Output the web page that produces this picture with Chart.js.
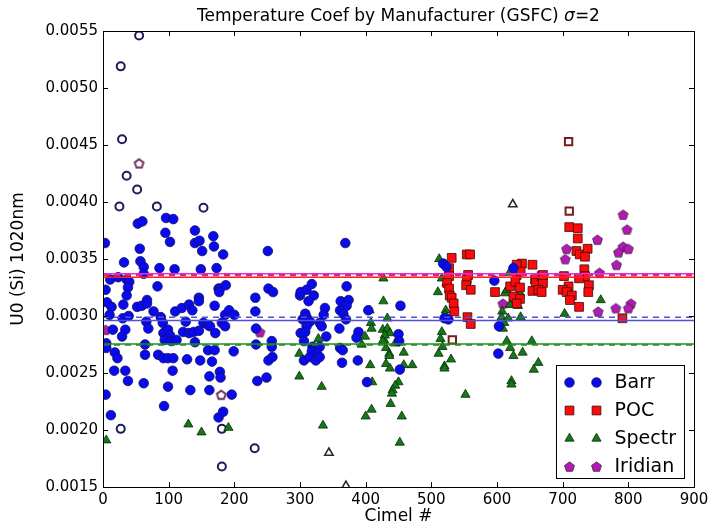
<!DOCTYPE html>
<html>
<head>
<meta charset="utf-8">
<script src="https://cdn.jsdelivr.net/npm/chart.js@4.4.0/dist/chart.umd.min.js"></script>
<style>
  html, body { margin: 0; padding: 0; background: #fff; }
</style>
</head>
<body>
<canvas id="chart" width="717" height="527"></canvas>
<script>
// Barr (filled circles)
const barrX = [3, 53, 60, 96, 107, 95, 102, 56, 140, 168, 140, 147, 151, 169, 32, 57, 62, 86, 109, 149, 173, 62, 11, 23, 36, 40, 38, 83, 4, 36, 176, 67, 146,
  6, 13, 31, 52, 59, 67, 77, 88, 110, 120, 131, 136, 146, 170, 10, 30, 39, 66, 69, 91, 92, 99, 94, 102, 104, 112, 122, 126, 131, 138, 140, 146, 153, 160, 163, 171,
  15, 34, 29, 5, 5, 18, 22, 64, 64, 84, 92, 99, 107, 128, 148, 160, 166, 17, 34, 106, 38, 62, 99, 133, 162, 162, 4, 93, 12, 196, 176, 183, 178, 179,
  183, 251, 178, 187, 177, 186, 192, 200, 181, 186, 170, 199, 232, 232, 252, 259, 233, 233, 257, 257, 252, 258, 235, 249,
  300, 301, 318, 321, 313, 310, 338, 336, 308, 304, 310, 315, 310, 301, 308, 330, 333, 340, 306, 319, 324, 330, 318, 325, 306, 315, 324, 330,
  369, 371, 362, 374, 371, 361, 366, 370, 360, 389, 386, 361, 365, 364, 388, 404, 453, 450, 451, 452, 402,
  518, 523, 520, 526, 596, 603, 602, 625];
const barrY = [0.00364, 0.00381, 0.00383, 0.00386, 0.00385, 0.00373, 0.00365, 0.00359, 0.00375, 0.00370, 0.00364, 0.00366, 0.00357, 0.00361, 0.00347, 0.00348, 0.00343, 0.00342, 0.00341, 0.00341, 0.00342, 0.00337, 0.00332, 0.00334, 0.00332, 0.00330, 0.00325, 0.00326, 0.00323, 0.00318, 0.00324, 0.00314, 0.00316,
  0.00312, 0.00308, 0.00310, 0.00308, 0.00309, 0.00311, 0.00304, 0.00299, 0.00304, 0.00307, 0.00310, 0.00305, 0.00313, 0.00309, 0.00301, 0.00298, 0.00300, 0.00295, 0.00289, 0.00294, 0.00285, 0.00288, 0.00279, 0.00283, 0.00278, 0.00279, 0.00286, 0.00295, 0.00285, 0.00286, 0.00277, 0.00287, 0.00294, 0.00292, 0.00291, 0.00285,
  0.00288, 0.00288, 0.00282, 0.00276, 0.00272, 0.00268, 0.00263, 0.00275, 0.00266, 0.00266, 0.00263, 0.00263, 0.00263, 0.00262, 0.00261, 0.00270, 0.00260, 0.00252, 0.00252, 0.00252, 0.00243, 0.00241, 0.00238, 0.00235, 0.00235, 0.00247, 0.00231, 0.00221, 0.00213, 0.00231, 0.00211, 0.00216, 0.00251, 0.00246,
  0.00354, 0.00357, 0.00324, 0.00327, 0.00321, 0.00301, 0.00305, 0.00301, 0.00294, 0.00291, 0.00270, 0.00269, 0.00316, 0.00304, 0.00324, 0.00321, 0.00289, 0.00275, 0.00278, 0.00273, 0.00261, 0.00264, 0.00243, 0.00246,
  0.00318, 0.00321, 0.00328, 0.00318, 0.00313, 0.00323, 0.00307, 0.00301, 0.00302, 0.00297, 0.00299, 0.00295, 0.00291, 0.00285, 0.00286, 0.00294, 0.00291, 0.00282, 0.00278, 0.00273, 0.00272, 0.00273, 0.00269, 0.00267, 0.00261, 0.00264, 0.00261, 0.00264,
  0.00364, 0.00326, 0.00313, 0.00314, 0.00309, 0.00305, 0.00302, 0.00297, 0.00289, 0.00286, 0.00281, 0.00272, 0.00270, 0.00259, 0.00261, 0.00305, 0.00309, 0.00284, 0.00278, 0.00253, 0.00242,
  0.00346, 0.00343, 0.00298, 0.00297, 0.00331, 0.00291, 0.00267, 0.00342];
const barrOutX = [55, 27, 29, 36, 52, 25, 82, 153, 27, 181, 231, 181];
const barrOutY = [0.00546, 0.00519, 0.00455, 0.00423, 0.00411, 0.00396, 0.00396, 0.00395, 0.00201, 0.00201, 0.00184, 0.00168];

// POC (squares)
const pocX = [531, 527, 527, 524, 527, 528, 531, 534, 535, 554, 559, 556, 554, 553, 560, 555, 560, 597, 620, 630, 638, 630, 636, 654, 628, 635, 625, 635, 630,
  658, 659, 668, 670, 654, 663, 668, 670, 710, 723, 723, 721, 726, 738, 734, 733, 734, 725, 702, 709, 700, 706, 714, 711, 725, 740, 739, 791];
const pocY = [0.00351, 0.00342, 0.00335, 0.00329, 0.00324, 0.00318, 0.00316, 0.00311, 0.00304, 0.00354, 0.00354, 0.00336, 0.00332, 0.00327, 0.00323, 0.00299, 0.00293, 0.00321, 0.00326, 0.00336, 0.00346, 0.00345, 0.00339, 0.00345, 0.00330, 0.00325, 0.00317, 0.00315, 0.00311,
  0.00332, 0.00329, 0.00335, 0.00329, 0.00322, 0.00323, 0.00321, 0.00336, 0.00378, 0.00377, 0.00368, 0.00357, 0.00354, 0.00359, 0.00352, 0.00341, 0.00335, 0.00333, 0.00335, 0.00326, 0.00323, 0.00321, 0.00318, 0.00314, 0.00308, 0.00327, 0.00321, 0.00298];
const pocOutX = [709, 710, 532];
const pocOutY = [0.00453, 0.00392, 0.00279];

// Spectr (triangles)
const spectrX = [5, 130, 150, 191, 299, 299, 328, 333, 335,
  427, 427, 406, 433, 408, 409, 426, 433, 437, 399, 394, 428, 431, 445, 436, 458, 407, 431, 437, 458, 471, 450, 445, 441, 440, 410, 438, 409, 400, 455, 452, 429, 426, 436,
  512, 516, 510, 522, 521, 516, 514, 517, 511, 530, 520, 520, 552, 523,
  608, 607, 611, 609, 617, 615, 620, 625, 639, 653, 663, 656, 622, 622, 612, 615, 625, 635, 621, 632, 636, 619, 620, 758, 703];
const spectrY = [0.00191, 0.00205, 0.00198, 0.00202, 0.00267, 0.00247, 0.00280, 0.00238, 0.00204,
  0.00333, 0.00313, 0.00305, 0.00298, 0.00294, 0.00289, 0.00288, 0.00289, 0.00285, 0.00282, 0.00275, 0.00279, 0.00272, 0.00276, 0.00267, 0.00268, 0.00257, 0.00258, 0.00254, 0.00257, 0.00257, 0.00242, 0.00239, 0.00235, 0.00232, 0.00242, 0.00223, 0.00218, 0.00212, 0.00212, 0.00189, 0.00283, 0.00278, 0.00265,
  0.00350, 0.00333, 0.00321, 0.00305, 0.00301, 0.00286, 0.00280, 0.00273, 0.00267, 0.00262, 0.00256, 0.00254, 0.00231, 0.00329,
  0.00304, 0.00299, 0.00294, 0.00289, 0.00298, 0.00278, 0.00272, 0.00265, 0.00268, 0.00278, 0.00259, 0.00253, 0.00243, 0.00240, 0.00320, 0.00323, 0.00329, 0.00320, 0.00310, 0.00309, 0.00299, 0.00338, 0.00310, 0.00314, 0.00302];
const spectrOutX = [344, 624, 370];
const spectrOutY = [0.00180, 0.00398, 0.00151];

// Iridian (pentagons)
const iridianX = [4, 239, 609, 792, 798, 753, 706, 704, 792, 785, 800, 782, 756, 754, 781, 804, 800];
const iridianY = [0.00288, 0.00286, 0.00311, 0.00389, 0.00376, 0.00367, 0.00359, 0.00350, 0.00361, 0.00356, 0.00359, 0.00345, 0.00338, 0.00304, 0.00307, 0.00311, 0.00307];
const iridianOutX = [55, 180];
const iridianOutY = [0.00434, 0.00231];

// mean lines (solid) and sigma-clipped means (dashed)
const meanSolid = { Iridian: 0.00337, POC: 0.00334, Barr: 0.00296, Spectr: 0.002755 };
const meanDashed = { Iridian: 0.003365, POC: 0.003355, Barr: 0.00299, Spectr: 0.002745 };
const xRange = [0, 900];

function pts(xs, ys) { return xs.map((x, i) => ({ x: x, y: ys[i] })); }

function pentagon(fill, stroke, lw, r) {
  const c = document.createElement('canvas');
  const s = 2 * Math.ceil(r + lw) + 1;
  c.width = s; c.height = s;
  const g = c.getContext('2d');
  g.beginPath();
  for (let i = 0; i < 5; i++) {
    const a = -Math.PI / 2 + i * 2 * Math.PI / 5;
    const px = s / 2 + r * Math.cos(a), py = s / 2 + 0.6 + r * Math.sin(a);
    if (i) g.lineTo(px, py); else g.moveTo(px, py);
  }
  g.closePath();
  if (fill) { g.fillStyle = fill; g.fill(); }
  g.lineWidth = lw; g.strokeStyle = stroke; g.stroke();
  return c;
}

const BLUE = '#0a0af0', RED = '#ff0a0a', GREEN = '#137a13', PURPLE = '#b21ab2';
const pentFilled = pentagon(PURPLE, '#3a1a3a', 0.8, 5.2);
const pentHollow = pentagon(null, '#6b2a55', 1.9, 4.6);

function scatterSet(label, data, style, radius, fill, edge, bw, legend) {
  return {
    type: 'scatter', label: label, data: data, order: 1,
    pointStyle: style, pointRadius: radius, pointHoverRadius: radius,
    backgroundColor: fill, borderColor: edge, borderWidth: bw,
    showLegend: legend
  };
}
function hline(y, color, dash, width) {
  return {
    type: 'line', label: '', data: [{ x: xRange[0], y: y }, { x: xRange[1], y: y }],
    borderColor: color, borderWidth: width, borderDash: dash, pointRadius: 0, order: 0, showLegend: false
  };
}

const datasets = [
  hline(meanDashed.Iridian, '#d020d0', [6, 5], 1.5),
  hline(meanSolid.Iridian, '#e030e0', [], 1.5),
  hline(meanDashed.POC, '#ff2020', [6, 5], 1.5),
  hline(meanSolid.POC, '#ff2020', [], 1.5),
  hline(meanDashed.Barr, '#5050d8', [6, 5], 1.5),
  hline(meanSolid.Barr, '#5050d8', [], 1.5),
  hline(meanDashed.Spectr, '#1e8c1e', [6, 5], 1.5),
  hline(meanSolid.Spectr, '#1e8c1e', [], 1.5),
  scatterSet('Barr', pts(barrX, barrY), 'circle', 4.8, BLUE, '#101060', 0.8, true),
  scatterSet('POC', pts(pocX, pocY), 'rect', 6.2, RED, '#3a0a0a', 0.8, true),
  scatterSet('Spectr', pts(spectrX, spectrY), 'triangle', 5.3, GREEN, '#0a2a0a', 0.8, true),
  scatterSet('Iridian', pts(iridianX, iridianY), pentFilled, 5, PURPLE, '#3a1a3a', 0.8, true),
  scatterSet('', pts(barrOutX, barrOutY), 'circle', 4, 'rgba(0,0,0,0)', '#1c1c5a', 2, false),
  scatterSet('', pts(pocOutX, pocOutY), 'rect', 5.2, 'rgba(0,0,0,0)', '#7a1c1c', 2, false),
  scatterSet('', pts(spectrOutX, spectrOutY), 'triangle', 4.8, 'rgba(0,0,0,0)', '#2a2a2a', 1.6, false),
  scatterSet('', pts(iridianOutX, iridianOutY), pentHollow, 5, 'rgba(0,0,0,0)', '#6b2a55', 1.9, false)
];

const FONT = 'DejaVu Sans';
const TITLE = ['Temperature Coef by Manufacturer (GSFC) ', '\u03c3', '=2'];

const frame = {
  id: 'frame',
  afterDatasetsDraw(chart) {
    const { ctx, chartArea: a, scales } = chart;
    ctx.save();
    ctx.strokeStyle = '#000';
    ctx.lineWidth = 1;
    ctx.beginPath();
    const tl = 5;
    scales.x.ticks.forEach(t => {
      const px = Math.round(scales.x.getPixelForValue(t.value)) + 0.5;
      ctx.moveTo(px, a.bottom); ctx.lineTo(px, a.bottom - tl);
      ctx.moveTo(px, a.top); ctx.lineTo(px, a.top + tl);
    });
    scales.y.ticks.forEach(t => {
      const py = Math.round(scales.y.getPixelForValue(t.value)) + 0.5;
      ctx.moveTo(a.left, py); ctx.lineTo(a.left + tl, py);
      ctx.moveTo(a.right, py); ctx.lineTo(a.right - tl, py);
    });
    ctx.stroke();
    ctx.strokeRect(Math.round(a.left) + 0.5, Math.round(a.top) + 0.5, Math.round(a.right - a.left), Math.round(a.bottom - a.top));

    // title centred over the axes, sigma in italics
    const fonts = ['17px "' + FONT + '"', 'italic 17px "' + FONT + '"', '17px "' + FONT + '"'];
    let total = 0;
    const widths = TITLE.map((s, i) => { ctx.font = fonts[i]; const w = ctx.measureText(s).width; total += w; return w; });
    let tx = (a.left + a.right) / 2 - total / 2;
    ctx.fillStyle = '#000';
    ctx.textBaseline = 'middle';
    TITLE.forEach((s, i) => { ctx.font = fonts[i]; ctx.fillText(s, tx, 17); tx += widths[i]; });

    // legend box, two markers per entry like the original
    const entries = chart.data.datasets.filter(d => d.showLegend);
    const w = 128, h = 113;
    const bx = Math.round(a.right - 10 - w) + 0.5, by = Math.round(a.bottom - 9 - h) + 0.5;
    ctx.fillStyle = '#fff';
    ctx.fillRect(bx, by, w, h);
    ctx.strokeRect(bx, by, w, h);
    ctx.font = '19px "' + FONT + '"';
    entries.forEach((d, i) => {
      const ey = by + 17 + i * 28;
      [13, 40].forEach(dx => {
        ctx.fillStyle = d.backgroundColor;
        ctx.strokeStyle = d.borderColor;
        ctx.lineWidth = d.borderWidth;
        Chart.helpers.drawPoint(ctx, { pointStyle: d.pointStyle, radius: d.pointRadius, borderWidth: d.borderWidth, rotation: 0 }, bx + dx, ey);
      });
      ctx.fillStyle = '#000';
      ctx.fillText(d.label, bx + 58, ey + 1);
    });
    ctx.restore();
  }
};

new Chart(document.getElementById('chart'), {
  data: { datasets: datasets },
  options: {
    responsive: false,
    devicePixelRatio: 1,
    animation: false,
    layout: { padding: { left: 0, right: 23, top: 31, bottom: 0 } },
    plugins: {
      legend: { display: false },
      tooltip: { enabled: false },
      title: { display: false }
    },
    scales: {
      x: {
        type: 'linear', min: 0, max: 900,
        grid: { display: false, drawTicks: false },
        border: { display: false },
        ticks: { stepSize: 100, color: '#000', padding: 4, maxRotation: 0, autoSkip: false, font: { family: FONT, size: 15 } },
        title: { display: true, text: 'Cimel #', color: '#000', font: { family: FONT, size: 17 }, padding: { top: 0, bottom: 0 } },
        afterFit: s => { s.height = 40; }
      },
      y: {
        type: 'linear', min: 0.0015, max: 0.0055,
        grid: { display: false, drawTicks: false },
        border: { display: false },
        ticks: { stepSize: 0.0005, color: '#000', padding: 5, autoSkip: false, font: { family: FONT, size: 15 }, callback: v => v.toFixed(4) },
        title: { display: true, text: 'U0 (Si) 1020nm', color: '#000', font: { family: FONT, size: 17 }, padding: { top: 8, bottom: 0 } },
        afterFit: s => { s.width = 103; }
      }
    }
  },
  plugins: [frame]
});
</script>
</body>
</html>
